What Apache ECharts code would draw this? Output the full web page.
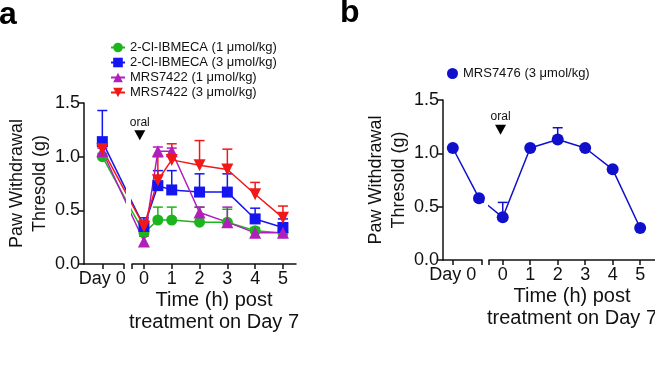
<!DOCTYPE html>
<html>
<head>
<meta charset="utf-8">
<script src="https://cdn.jsdelivr.net/npm/echarts@6/dist/echarts.min.js"></script>
<style>
  html, body { margin: 0; padding: 0; background: #fff; }
  #chart { width: 655px; height: 368px; }
</style>
</head>
<body>
<div id="chart"></div>
<script>
// Panel a: x positions in hours after oral dosing on Day 7; Day 0 sits left of the axis break
const dayZeroA = -1.5;
const hoursA = [0, 0.5, 1, 2, 3, 4, 5];
const namesA = ['2-Cl-IBMECA (1 μmol/kg)', '2-Cl-IBMECA (3 μmol/kg)', 'MRS7422 (1 μmol/kg)', 'MRS7422 (3 μmol/kg)'];
// values: [Day 0, 0 h, 0.5 h, 1 h, 2 h, 3 h, 4 h, 5 h]
const clIbmeca1Mean = [1.00, 0.29, 0.41, 0.41, 0.39, 0.39, 0.31, 0.29];
const clIbmeca1Sem = [0.03, 0.04, 0.12, 0.12, 0.14, 0.12, 0.03, 0.02];
const clIbmeca3Mean = [1.14, 0.35, 0.73, 0.69, 0.67, 0.67, 0.42, 0.34];
const clIbmeca3Sem = [0.29, 0.08, 0.14, 0.18, 0.17, 0.17, 0.10, 0.08];
const mrs7422a1Mean = [1.05, 0.21, 1.05, 1.05, 0.48, 0.39, 0.29, 0.29];
const mrs7422a1Sem = [0.03, 0.05, 0.04, 0.03, 0.05, 0.14, 0.02, 0.02];
const mrs7422a3Mean = [1.07, 0.35, 0.78, 0.97, 0.92, 0.88, 0.65, 0.43];
const mrs7422a3Sem = [0.03, 0.06, 0.22, 0.15, 0.23, 0.19, 0.11, 0.11];

// Panel b: Day 0, Day 7 baseline, then hours after dosing
const dayZeroB = -1.82;
const baselineB = -0.86;
const hoursB = [0, 1, 2, 3, 4, 5];
const nameB = 'MRS7476 (3 μmol/kg)';
const mrs7476Mean = [1.05, 0.58, 0.40, 1.05, 1.13, 1.05, 0.85, 0.30];
const mrs7476Sem = [0, 0, 0.14, 0, 0.11, 0, 0, 0];

const yTicks = [0, 0.5, 1, 1.5];

const font = 'Liberation Sans';
const ink = '#111';
const colorsA = ['#1db51d', '#1515f2', '#b01fbb', '#f21818'];
const symbolsA = ['circle', 'rect', 'triangle', 'path://M0,0L10,0L5,9Z'];
const symbolSizesA = [11, 11, 12, 12];
const colorB = '#1010cc';

const chart = echarts.init(document.getElementById('chart'));

function xAxis(gridIndex, min, max, tickVals, labelVals, fmt, name) {
  return {
    type: 'value',
    gridIndex,
    min,
    max,
    axisLine: { show: true, onZero: false, lineStyle: { color: ink, width: 1.5 } },
    axisTick: { show: true, length: 5, customValues: tickVals, lineStyle: { color: ink, width: 1.5 } },
    axisLabel: { customValues: labelVals, formatter: fmt, fontSize: 18, color: ink, margin: 6, fontFamily: font },
    splitLine: { show: false },
    name: name || '',
    nameLocation: 'middle',
    nameGap: 25,
    nameTextStyle: { fontSize: 20, lineHeight: 22, color: ink, fontFamily: font },
  };
}

function yAxis(gridIndex, show, nameGap) {
  return {
    type: 'value',
    gridIndex,
    show,
    min: 0,
    max: 1.5,
    interval: 0.5,
    axisLine: { show: true, onZero: false, lineStyle: { color: ink, width: 1.5 } },
    axisTick: { show: true, length: 5, lineStyle: { color: ink, width: 1.5 } },
    axisLabel: { customValues: yTicks, formatter: (v) => v.toFixed(1), fontSize: 18, color: ink, margin: 4, fontFamily: font },
    splitLine: { show: false },
    name: show ? 'Paw Withdrawal\nThresold (g)' : '',
    nameLocation: 'middle',
    nameRotate: 90,
    nameGap,
    nameTextStyle: { fontSize: 18, lineHeight: 23, color: ink, fontFamily: font },
  };
}

function renderErr(params, api) {
  const x = api.value(0);
  const m = api.value(1);
  const e = api.value(2);
  if (!e) return;
  const p0 = api.coord([x, m]);
  const p1 = api.coord([x, m + e]);
  const style = { stroke: api.visual('color'), lineWidth: 1.5 };
  return {
    type: 'group',
    children: [
      { type: 'line', shape: { x1: p0[0], y1: p0[1], x2: p1[0], y2: p1[1] }, style },
      { type: 'line', shape: { x1: p1[0] - 5, y1: p1[1], x2: p1[0] + 5, y2: p1[1] }, style },
    ],
  };
}

const oralMark = (xVal, yVal) => ({
  symbol: 'path://M0,0L10,0L5,9Z',
  symbolSize: [11, 10],
  itemStyle: { color: '#000' },
  label: { show: true, position: 'top', distance: 2, formatter: 'oral', fontSize: 12, color: ink, fontFamily: font },
  data: [{ coord: [xVal, yVal] }],
});

const seriesA = [];
[
  [clIbmeca1Mean, clIbmeca1Sem],
  [clIbmeca3Mean, clIbmeca3Sem],
  [mrs7422a1Mean, mrs7422a1Sem],
  [mrs7422a3Mean, mrs7422a3Sem],
].forEach(([mean, sem], k) => {
  const xs = [dayZeroA].concat(hoursA);
  const pts = xs.map((x, i) => [x, mean[i]]);
  const common = {
    type: 'line',
    name: namesA[k],
    symbol: symbolsA[k],
    symbolSize: symbolSizesA[k],
    color: colorsA[k],
    lineStyle: { width: 1.5 },
    clip: true,
    z: 3,
  };
  seriesA.push(Object.assign({}, common, { xAxisIndex: 0, yAxisIndex: 0, data: pts.slice(0, 2) }));
  const main = Object.assign({}, common, { xAxisIndex: 1, yAxisIndex: 1, data: pts });
  if (k === 0) main.markPoint = oralMark(-0.15, 1.2);
  seriesA.push(main);
  seriesA.push({
    type: 'custom', name: namesA[k], xAxisIndex: 0, yAxisIndex: 0, color: colorsA[k], z: 2,
    renderItem: renderErr, data: [[dayZeroA, mean[0], sem[0]]],
  });
  seriesA.push({
    type: 'custom', name: namesA[k], xAxisIndex: 1, yAxisIndex: 1, color: colorsA[k], z: 2,
    renderItem: renderErr, data: hoursA.map((h, i) => [h, mean[i + 1], sem[i + 1]]),
  });
});

const xsB = [dayZeroB, baselineB].concat(hoursB);
const ptsB = xsB.map((x, i) => [x, mrs7476Mean[i]]);
const errB = xsB.map((x, i) => [x, mrs7476Mean[i], mrs7476Sem[i]]);
const commonB = { type: 'line', name: nameB, symbol: 'circle', symbolSize: 12, color: colorB, lineStyle: { width: 1.5 }, clip: true, z: 3 };

const seriesB = [
  Object.assign({}, commonB, { xAxisIndex: 2, yAxisIndex: 2, data: ptsB.slice(0, 3) }),
  Object.assign({}, commonB, { xAxisIndex: 3, yAxisIndex: 3, data: ptsB.slice(1), markPoint: oralMark(-0.08, 1.22) }),
  { type: 'custom', name: nameB, xAxisIndex: 3, yAxisIndex: 3, color: colorB, z: 2, renderItem: renderErr, data: errB.slice(2) },
];

const option = {
  animation: false,
  textStyle: { fontFamily: font },
  title: [
    { text: 'a', left: -1, top: -1, padding: 0, textStyle: { fontSize: 32, fontWeight: 'bold', color: '#000', fontFamily: font } },
    { text: 'b', left: 340, top: -3, padding: 0, textStyle: { fontSize: 32, fontWeight: 'bold', color: '#000', fontFamily: font } },
  ],
  legend: [
    {
      data: namesA, orient: 'vertical', left: 105, top: 36, itemWidth: 14, itemHeight: 12, itemGap: 2,
      textStyle: { fontSize: 13, color: ink, fontFamily: font }, selectedMode: false,
    },
    {
      data: [nameB], left: 442, top: 62, itemWidth: 11, itemHeight: 11, icon: 'circle',
      textStyle: { fontSize: 13, color: ink, fontFamily: font }, selectedMode: false,
    },
  ],
  grid: [
    { left: 84, top: 103, width: 40, height: 161, outerBoundsMode: 'none', containLabel: false },
    { left: 132, top: 103, width: 164, height: 161, outerBoundsMode: 'none', containLabel: false },
    { left: 443, top: 100, width: 39, height: 160, outerBoundsMode: 'none', containLabel: false },
    { left: 489, top: 100, width: 166, height: 160, outerBoundsMode: 'none', containLabel: false },
  ],
  xAxis: [
    xAxis(0, -2.16, -0.72, [dayZeroA, -0.72], [dayZeroA], () => 'Day 0'),
    xAxis(1, -0.43, 5.47, [-0.43].concat(hoursB), hoursB, (v) => String(v), 'Time (h) post\ntreatment on Day 7'),
    xAxis(2, -2.18, -0.75, [dayZeroB, -0.75], [dayZeroB], () => 'Day 0'),
    xAxis(3, -0.5, 5.54, [-0.5].concat(hoursB), hoursB, (v) => String(v), 'Time (h) post\ntreatment on Day 7'),
  ],
  yAxis: [yAxis(0, true, 28), yAxis(1, false, 0), yAxis(2, true, 32), yAxis(3, false, 0)],
  series: seriesA.concat(seriesB),
};

chart.setOption(option);
</script>
</body>
</html>
